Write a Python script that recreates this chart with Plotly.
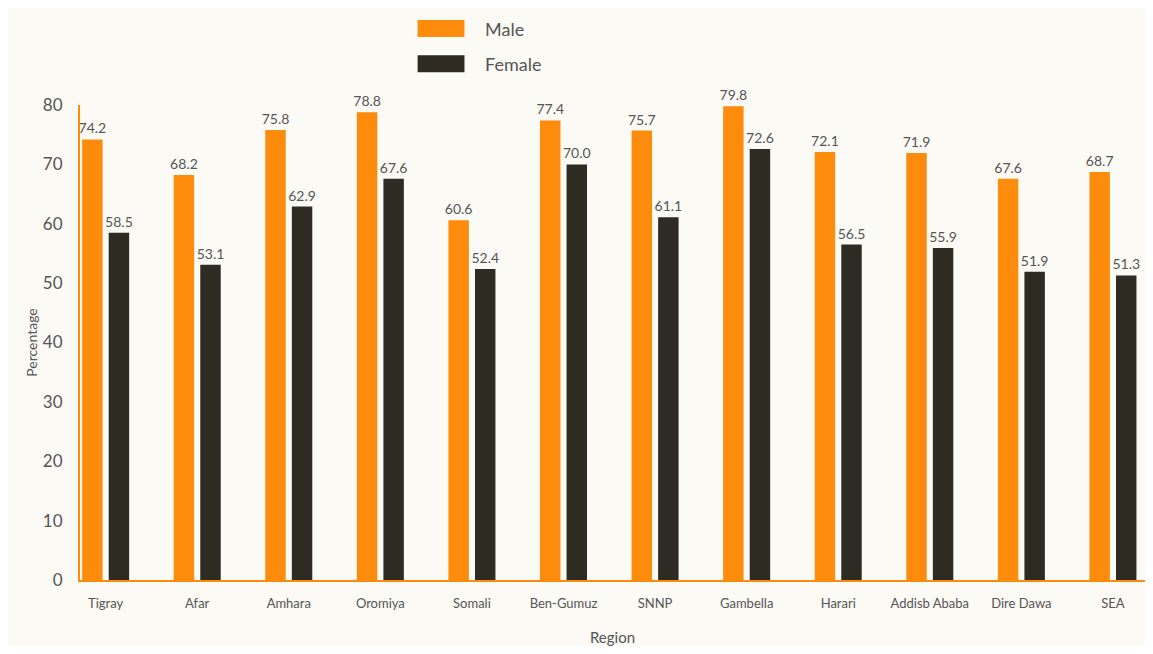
import plotly.graph_objects as go

regions = ["Tigray", "Afar", "Amhara", "Oromiya", "Somali", "Ben-Gumuz", "SNNP",
           "Gambella", "Harari", "Addisb Ababa", "Dire Dawa", "SEA"]
male = [74.2, 68.2, 75.8, 78.8, 60.6, 77.4, 75.7, 79.8, 72.1, 71.9, 67.6, 68.7]
female = [58.5, 53.1, 62.9, 67.6, 52.4, 70.0, 61.1, 72.6, 56.5, 55.9, 51.9, 51.3]
y_ticks = [0, 10, 20, 30, 40, 50, 60, 70, 80]

ORANGE = "#fd8b0c"
DARK = "#2d2b22"
BG = "#fbfaf5"
TXT = "#555555"
FONT = "Lato"

fig = go.Figure()
for name, vals, col in [("Male", male, ORANGE), ("Female", female, DARK)]:
    fig.add_trace(go.Bar(
        x=regions, y=vals, name=name, marker=dict(color=col, line=dict(width=0)),
        text=[f"{v:.1f}" for v in vals], textposition="outside",
        constraintext="none",
        textfont=dict(size=14, color=TXT, family=FONT), cliponaxis=False,
        showlegend=False,
    ))

# legend drawn as swatches + text
for name, col, yc in [("Male", ORANGE, 1.161), ("Female", DARK, 1.087)]:
    fig.add_shape(type="rect", xref="paper", yref="paper",
                  x0=0.317, x1=0.361, y0=yc - 0.018, y1=yc + 0.018,
                  fillcolor=col, line=dict(width=0))
    fig.add_annotation(xref="paper", yref="paper", x=0.378, y=yc, text=name,
                       showarrow=False, xanchor="left", yanchor="middle",
                       font=dict(size=18, color=TXT, family=FONT))

fig.update_layout(
    width=1137, height=638,
    margin=dict(l=72, r=0, t=97, b=58),
    paper_bgcolor=BG, plot_bgcolor=BG,
    barmode="group", bargap=0.42, bargroupgap=0.23,
    font=dict(family=FONT, color=TXT),
    showlegend=False,
    xaxis=dict(range=[-0.28, 11.35], showline=True, linecolor=ORANGE, linewidth=2,
               showgrid=False, ticks="", ticklabelstandoff=10,
               tickfont=dict(size=13, color=TXT),
               title=dict(text="Region", font=dict(size=15, color=TXT), standoff=25)),
    yaxis=dict(range=[0, 80], tickvals=y_ticks, showline=True, linecolor=ORANGE,
               linewidth=2, showgrid=False, zeroline=False, ticks="",
               ticklabelstandoff=12,
               tickfont=dict(size=17, color=TXT),
               title=dict(text="Percentage", font=dict(size=14, color=TXT), standoff=2)),
)

fig.write_html("out.html")
